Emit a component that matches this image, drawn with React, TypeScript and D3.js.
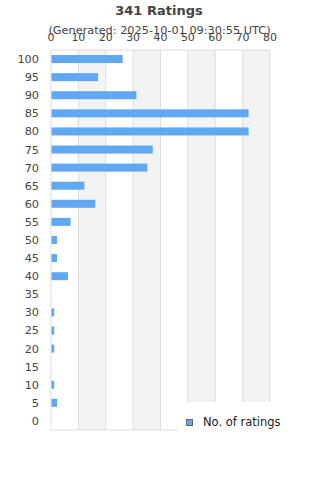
import React, { useEffect, useRef } from 'react';
import * as d3 from 'd3';

const categories = ['100', '95', '90', '85', '80', '75', '70', '65', '60', '55', '50', '45', '40', '35', '30', '25', '20', '15', '10', '5', '0'];
const ratings = [26, 17, 31, 72, 72, 37, 35, 12, 16, 7, 2, 2, 6, 0, 1, 1, 1, 0, 1, 2, 0];
const xTicks = [0, 10, 20, 30, 40, 50, 60, 70, 80];

const title = '341 Ratings';
const subtitle = '(Generated: 2025-10-01 09:30:55 UTC)';
const seriesName = 'No. of ratings';

const App = () => {
  const svgRef = useRef<SVGSVGElement>(null);

  useEffect(() => {
    const svg = d3.select(svgRef.current);
    svg.selectAll('*').remove();

    const width = 320;
    const height = 480;
    const margin = { top: 50, right: 50, bottom: 50, left: 51 };
    const font = 'DejaVu Sans, sans-serif';

    const x = d3.scaleLinear()
      .domain([0, 80])
      .range([margin.left, width - margin.right]);

    const band = d3.scaleBand()
      .domain(categories)
      .range([margin.top, height - margin.bottom]);

    // alternating shaded columns
    svg.append('g')
      .selectAll('rect')
      .data(xTicks.slice(0, -1).filter((_, i) => i % 2 === 1))
      .enter()
      .append('rect')
      .attr('x', d => x(d))
      .attr('y', margin.top)
      .attr('width', x(10) - x(0))
      .attr('height', height - margin.bottom - margin.top)
      .attr('fill', '#f3f3f3');

    // gridlines
    svg.append('g')
      .selectAll('line')
      .data(xTicks)
      .enter()
      .append('line')
      .attr('x1', d => x(d))
      .attr('x2', d => x(d))
      .attr('y1', margin.top)
      .attr('y2', height - margin.bottom)
      .attr('stroke', '#dddddd')
      .attr('stroke-width', 1);

    // plot border top/bottom
    svg.append('line')
      .attr('x1', x(0)).attr('x2', x(80))
      .attr('y1', margin.top).attr('y2', margin.top)
      .attr('stroke', '#dddddd');
    svg.append('line')
      .attr('x1', x(0)).attr('x2', x(80))
      .attr('y1', height - margin.bottom).attr('y2', height - margin.bottom)
      .attr('stroke', '#dddddd');

    // bars
    svg.append('g')
      .selectAll('rect')
      .data(ratings)
      .enter()
      .append('rect')
      .attr('x', x(0) + 0.5)
      .attr('y', (_, i) => (band(categories[i]) as number) + band.bandwidth() / 2 - 4)
      .attr('width', d => Math.max(0, x(d) - x(0)))
      .attr('height', 8)
      .attr('fill', '#61a8f3');

    // top axis labels
    svg.append('g')
      .selectAll('text')
      .data(xTicks)
      .enter()
      .append('text')
      .attr('x', d => x(d))
      .attr('y', 41)
      .attr('text-anchor', 'middle')
      .attr('font-family', font)
      .attr('font-size', 11)
      .attr('fill', '#444')
      .text(d => d);

    // left axis labels
    svg.append('g')
      .selectAll('text')
      .data(categories)
      .enter()
      .append('text')
      .attr('x', 39)
      .attr('y', d => (band(d) as number) + band.bandwidth() / 2 + 4)
      .attr('text-anchor', 'end')
      .attr('font-family', font)
      .attr('font-size', 11.3)
      .attr('fill', '#444')
      .text(d => d);

    // title
    svg.append('text')
      .attr('x', 159)
      .attr('y', 15)
      .attr('text-anchor', 'middle')
      .attr('font-family', font)
      .attr('font-weight', 'bold')
      .attr('font-size', 13)
      .attr('fill', '#444')
      .text(title);

    svg.append('text')
      .attr('x', 159.5)
      .attr('y', 33.5)
      .attr('text-anchor', 'middle')
      .attr('font-family', font)
      .attr('font-size', 11.3)
      .attr('fill', '#444')
      .text(subtitle);

    // legend
    svg.append('rect')
      .attr('x', 178)
      .attr('y', 402)
      .attr('width', 110)
      .attr('height', 40)
      .attr('fill', '#fff');
    svg.append('rect')
      .attr('x', 186.5)
      .attr('y', 419.5)
      .attr('width', 6)
      .attr('height', 6)
      .attr('fill', '#61a8f3')
      .attr('stroke', '#666');
    svg.append('text')
      .attr('x', 203)
      .attr('y', 426)
      .attr('font-family', font)
      .attr('font-size', 11.5)
      .attr('fill', '#222')
      .text(seriesName);
  }, []);

  return (
    <svg ref={svgRef} width="320" height="480" style={{ position: 'absolute', left: 0, top: 0, background: '#fff' }} />
  );
};

export default App;
